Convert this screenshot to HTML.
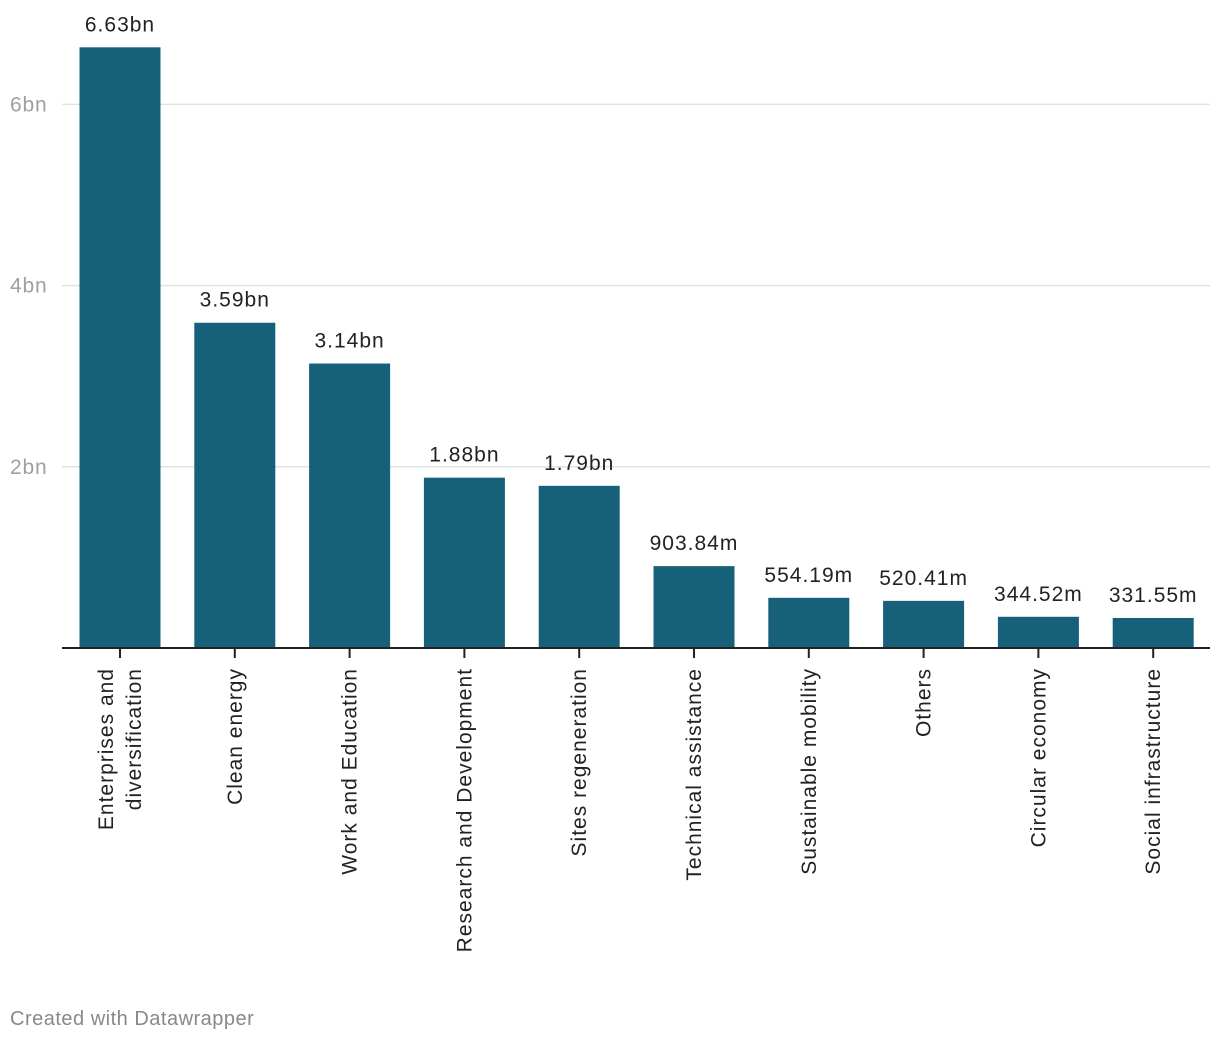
<!DOCTYPE html>
<html><head><meta charset="utf-8"><style>
html,body{margin:0;padding:0;background:#fff;width:1220px;height:1042px;overflow:hidden}
svg text{font-family:"Liberation Sans",sans-serif}
</style></head><body>
<svg id="chart" width="1220" height="1042" xmlns="http://www.w3.org/2000/svg">
<g id="grid"></g><g id="bars"></g><g id="axis"></g><g id="labels"></g>
<text x="10" y="1025" font-size="20" letter-spacing="0.5" fill="#888">Created with Datawrapper</text>
</svg>
<script>
const categories = [["Enterprises and","diversification"],["Clean energy"],["Work and Education"],["Research and Development"],["Sites regeneration"],["Technical assistance"],["Sustainable mobility"],["Others"],["Circular economy"],["Social infrastructure"]];
const values = [6.63, 3.59, 3.14, 1.88, 1.79, 0.90384, 0.55419, 0.52041, 0.34452, 0.33155];
const valueLabels = ["6.63bn","3.59bn","3.14bn","1.88bn","1.79bn","903.84m","554.19m","520.41m","344.52m","331.55m"];
const yTicks = [2, 4, 6];
const yTickLabels = ["2bn","4bn","6bn"];

const NS = "http://www.w3.org/2000/svg";
const baseY = 648, pxPerBn = 90.6;
const y = v => baseY - v * pxPerBn;
const x0 = 120, step = 114.8, bw = 81;
const xc = i => x0 + i * step;
function mk(tag, attrs, parent, text){
  const e = document.createElementNS(NS, tag);
  for (const k in attrs) e.setAttribute(k, attrs[k]);
  if (text !== undefined) e.textContent = text;
  parent.appendChild(e); return e;
}
const grid = document.getElementById('grid'), bars = document.getElementById('bars'),
      axis = document.getElementById('axis'), labels = document.getElementById('labels');
yTicks.forEach((t, i) => {
  const l = mk('line', {x1: 62, x2: 1210, y1: y(t), y2: y(t), stroke: '#e2e2e2', 'stroke-width': 1.5}, grid);
  
  
  const tx = mk('text', {x: 10, y: y(t) + 7, 'font-size': 21, 'letter-spacing': 0.8, fill: '#a0a0a0'}, grid, yTickLabels[i]);
  
  
});
values.forEach((v, i) => {
  const r = mk('rect', {x: xc(i) - bw / 2, y: y(v), width: bw, height: baseY - y(v), fill: '#17607a'}, bars);
  
  
  const t = mk('text', {x: xc(i), y: y(v) - 16, 'font-size': 21, 'letter-spacing': 1, fill: '#222', 'text-anchor': 'middle'}, labels, valueLabels[i]);
  
  
  const tk = mk('line', {x1: xc(i), x2: xc(i), y1: baseY, y2: baseY + 10, stroke: '#222', 'stroke-width': 2}, axis);
  
  
  const lines = categories[i];
  const g = mk('text', {transform: 'translate(' + xc(i) + ',668) rotate(-90)', 'font-size': 21, 'letter-spacing': 1, fill: '#222', 'text-anchor': 'end'}, labels);
  
  
  const n = lines.length;
  lines.forEach((s, j) => {
    const off = 7 + (j - (n - 1) / 2) * 28;
    mk('tspan', {x: 0, y: off}, g, s);
  });
});
const ax = mk('line', {x1: 62, x2: 1210, y1: baseY, y2: baseY, stroke: '#222', 'stroke-width': 2}, axis);


</script>
</body></html>
